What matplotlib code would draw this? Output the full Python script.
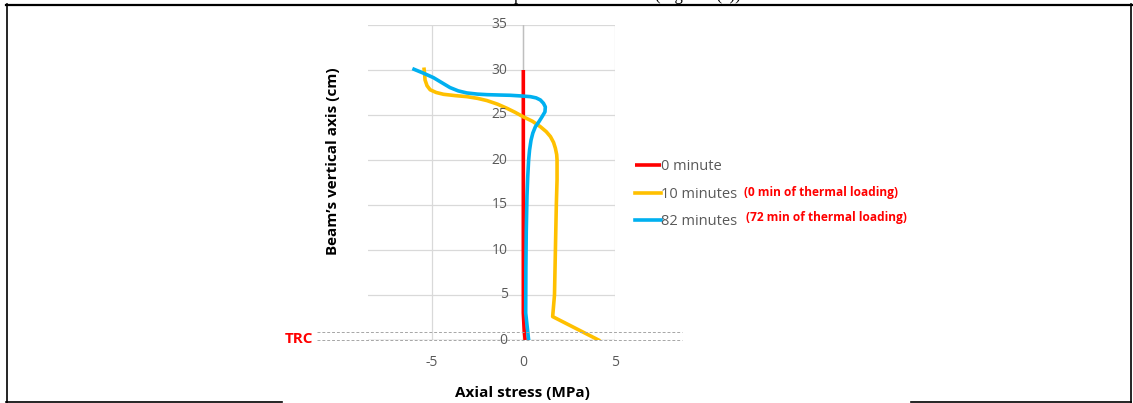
import matplotlib
matplotlib.use("Agg")
import matplotlib.pyplot as plt
from matplotlib.lines import Line2D

W, H = 1133, 403
plt.rcParams['font.family'] = ['Open Sans', 'DejaVu Sans']

# ---- data (axial stress in MPa vs height in cm) ----
red_x = [0.0, 0.0, 0.0, 0.05, 0.1]
red_y = [30, 20, 3, 1, 0]

yel_x = [-5.41, -5.38, -5.36, -5.25, -5.08, -4.75, -4.35, -3.7, -3.08, -2.5, -1.98, -1.4, -0.89, -0.45, 0.0,
         0.5, 0.93, 1.25, 1.48, 1.65, 1.75, 1.82, 1.84, 1.84, 1.8, 1.75, 1.7, 1.6, 4.1]
yel_y = [30.08, 29.5, 28.9, 28.25, 27.8, 27.5, 27.3, 27.15, 27.04, 26.85, 26.6, 26.2, 25.74, 25.3, 24.8,
         24.3, 23.7, 23.15, 22.6, 21.95, 21.3, 20.6, 20.0, 17.8, 15, 10, 5, 2.6, 0]

blu_x = [-5.96, -5.45, -4.9, -4.45, -4.0, -3.55, -3.08, -2.5, -1.98, -1.3, -0.71, -0.15, 0.38, 0.7, 0.93,
         1.1, 1.2, 1.18, 1.02, 0.85, 0.66, 0.52, 0.42, 0.34, 0.29, 0.24, 0.2, 0.16, 0.14, 0.13, 0.29]
blu_y = [30.08, 29.65, 29.15, 28.6, 28.05, 27.68, 27.45, 27.32, 27.26, 27.22, 27.19, 27.12, 27.04, 26.9, 26.67,
         26.3, 25.9, 25.35, 24.8, 24.25, 23.7, 23.0, 22.2, 21.1, 20.0, 18.1, 16, 12, 8, 3, 0]

series_labels = ['0 minute', '10 minutes', '82 minutes']
series_notes = ['', '(0 min of thermal loading)', '(72 min of thermal loading)']
series_colors = ['#FF0000', '#FFC000', '#00B0F0']

x_ticks = [-5, 0, 5]
y_ticks = [0, 5, 10, 15, 20, 25, 30, 35]

fig = plt.figure(figsize=(W / 100, H / 100), dpi=100)

def fx(px):
    return px / W

def fy(py):
    return 1 - py / H

# axes placement: x from 368 to 615 px, y from 340 (0) to 25 (35)
ax = fig.add_axes([fx(368), fy(340), fx(615) - fx(368), fy(25) - fy(340)])
ax.set_xlim(-8.47, 5)
ax.set_ylim(0, 35)

grid_c = '#D9D9D9'
for t in y_ticks:
    ax.axhline(t, color=grid_c, lw=0.9, zorder=0)
for t in x_ticks:
    ax.axvline(t, color=grid_c, lw=0.9, zorder=0)
ax.axvline(0, color='#BFBFBF', lw=1.0, zorder=0)
ax.axhline(0, color='#BFBFBF', lw=1.0, zorder=0)

for sp in ax.spines.values():
    sp.set_visible(False)

ax.set_xticks(x_ticks)
ax.set_xticklabels([str(t) for t in x_ticks])
ax.set_yticks(y_ticks)
ax.set_yticklabels([])
ax.tick_params(axis='x', length=0, pad=11, labelsize=10, labelcolor='#595959')
ax.tick_params(axis='y', length=0)
for t in y_ticks:
    ax.text(-0.85, t, str(t), ha='right', va='center', fontsize=10, color='#595959')

lines = []
lines.append(ax.plot(red_x, red_y, color=series_colors[0], lw=2.6, solid_capstyle='butt')[0])
lines.append(ax.plot(yel_x, yel_y, color=series_colors[1], lw=2.6, solid_joinstyle='round')[0])
lines.append(ax.plot(blu_x, blu_y, color=series_colors[2], lw=2.6, solid_joinstyle='round')[0])

leg = fig.legend(lines, series_labels, loc='upper left', bbox_to_anchor=(fx(635), fy(159)),
                 frameon=False, handlelength=1.75, handletextpad=0.05, labelspacing=0.87,
                 borderpad=0, borderaxespad=0, fontsize=10.5, labelcolor='#595959')

note_pos = [(0, 0), (744, 192), (746, 218)]
for note, (px, py) in zip(series_notes, note_pos):
    if note:
        fig.text(fx(px), fy(py), note, ha='left', va='center', fontsize=8.6, fontweight='bold', color='#FF0000')

# axis titles
fig.text(fx(522), fy(393), 'Axial stress (MPa)', ha='center', va='center', fontsize=11, fontweight='bold')
fig.text(fx(333), fy(161), 'Beam\u2019s vertical axis (cm)', ha='center', va='center', rotation=90,
         fontsize=11, fontweight='bold')

# TRC marker and dashed layer lines
fig.text(fx(299), fy(339), 'TRC', ha='center', va='center', fontsize=11, fontweight='bold', color='#FF0000')
for py in (332, 340):
    fig.add_artist(Line2D([fx(317), fx(682)], [fy(py), fy(py)], color='#A6A6A6', lw=0.7, ls=(0, (3, 2))))

# document table borders
bc = 'black'
fig.add_artist(Line2D([fx(6), fx(1133)], [fy(4.5), fy(4.5)], color=bc, lw=1.6))
fig.add_artist(Line2D([fx(6.8), fx(6.8)], [fy(4), fy(403)], color=bc, lw=1.2))
fig.add_artist(Line2D([fx(1130.5), fx(1130.5)], [fy(4), fy(403)], color=bc, lw=1.2))
fig.add_artist(Line2D([fx(6), fx(282)], [fy(402.3), fy(402.3)], color=bc, lw=1.2))
fig.add_artist(Line2D([fx(911), fx(1131)], [fy(402.3), fy(402.3)], color=bc, lw=1.2))

# clipped caption text above the table border
fig.text(fx(514), fy(-0.5), 'profile shown below (Figure 9(c)).', ha='left', va='baseline',
         fontsize=12, family='Liberation Serif')

fig.savefig('out.png', dpi=100)
